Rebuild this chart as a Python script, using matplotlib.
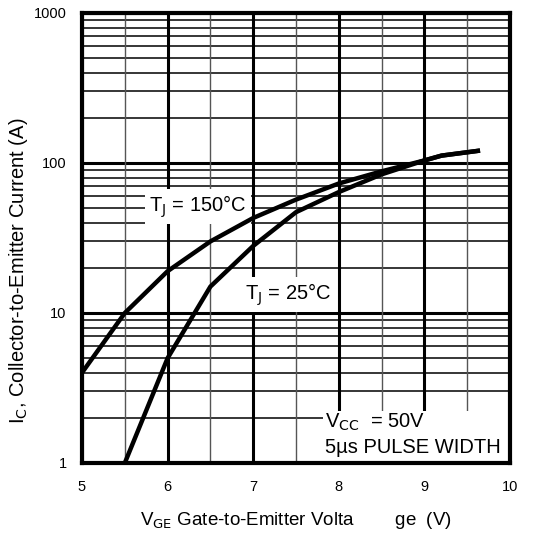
import matplotlib.pyplot as plt
from matplotlib.patches import Rectangle
from matplotlib.ticker import FixedLocator, NullFormatter

plt.rcParams['font.family'] = ['Liberation Sans', 'DejaVu Sans']

# data
vge_150 = [5.0, 5.5, 6.0, 6.5, 7.0, 7.5, 8.0, 8.5, 9.0, 9.2, 9.65]
ic_150 = [4.0, 10.0, 19.0, 30.0, 43.0, 57.0, 73.0, 88.0, 104.0, 112.0, 121.0]
vge_25 = [5.5, 6.0, 6.5, 7.0, 7.5, 8.0, 8.5, 9.0, 9.2, 9.65]
ic_25 = [1.0, 5.0, 15.0, 28.0, 47.0, 64.0, 84.0, 104.0, 112.0, 121.0]

x_ticks = [5, 6, 7, 8, 9, 10]
y_ticks = [1, 10, 100, 1000]

fig = plt.figure(figsize=(5.52, 5.33), dpi=100)
ax = fig.add_axes([82 / 552, 1 - 463 / 533, 428 / 552, 450 / 533])
ax.set_yscale('log')
ax.set_xlim(5, 10)
ax.set_ylim(1, 1000)

# grid
minor_y = [m * 10 ** d for d in range(3) for m in range(2, 10)]
for y in minor_y:
    ax.axhline(y, color='black', lw=1.1, zorder=1)
for y in y_ticks:
    ax.axhline(y, color='black', lw=2.2, zorder=1)
for x in [5.5, 6.5, 7.5, 8.5, 9.5]:
    ax.axvline(x, color='#555555', lw=1.0, zorder=1)
for x in x_ticks:
    ax.axvline(x, color='black', lw=2.2, zorder=1)

ax.plot(vge_150, ic_150, color='black', lw=3.2, zorder=4, solid_capstyle='butt')
ax.plot(vge_25, ic_25, color='black', lw=3.2, zorder=4, solid_capstyle='butt')

ax.xaxis.set_major_locator(FixedLocator(x_ticks))
ax.yaxis.set_major_locator(FixedLocator(y_ticks))
ax.yaxis.set_minor_locator(FixedLocator(minor_y))
ax.yaxis.set_minor_formatter(NullFormatter())
ax.set_xticklabels([str(v) for v in x_ticks], fontsize=10.5)
ax.set_yticklabels([str(v) for v in y_ticks], fontsize=10.5)
ax.tick_params(axis='both', which='both', length=0)
ax.tick_params(axis='x', pad=12)
ax.tick_params(axis='y', pad=11)

for s in ax.spines.values():
    s.set_linewidth(3)
    s.set_zorder(5)

box = dict(facecolor='white', edgecolor='none', pad=3)
ax.text(6.35, 51, 'T$_{\\rm J}$ = 150°C', fontsize=14.5, ha='center', va='center',
        bbox=box, zorder=3)
ax.text(7.41, 13.2, 'T$_{\\rm J}$ = 25°C', fontsize=14.5, ha='center', va='center',
        bbox=box, zorder=3)

# white background of the conditions note
ax.add_patch(Rectangle((7.82, 1), 2.18, 1.22, facecolor='white', edgecolor='none', zorder=2))
ax.text(7.84, 1.876, 'V$_{\\rm CC}$  = 50V', fontsize=14.5, ha='left', va='center', zorder=3)
ax.text(7.84, 1.278, '5µs PULSE WIDTH', fontsize=14.5, ha='left', va='center', zorder=3)

ax.set_xlabel('V$_{\\rm GE}$ Gate-to-Emitter Volta        ge  (V)', fontsize=13.5)
ax.xaxis.set_label_coords(0.5, -0.105)
ax.set_ylabel('I$_{\\rm C}$, Collector-to-Emitter Current (A)', fontsize=14.5)
ax.yaxis.set_label_coords(-0.122, 0.427)

fig.savefig('out.png', dpi=100)
